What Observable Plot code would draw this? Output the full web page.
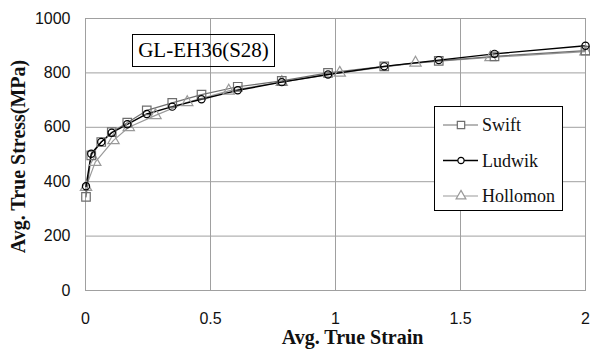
<!DOCTYPE html>
<html><head><meta charset="utf-8">
<script src="https://cdn.jsdelivr.net/npm/d3@7"></script>
<script src="https://cdn.jsdelivr.net/npm/@observablehq/plot@0.6"></script>
<style>
body{margin:0;background:#fff;}
#wrap{position:relative;width:590px;height:352px;overflow:hidden;}
#title{position:absolute;left:132px;top:34px;width:141px;height:31px;border:1px solid #000;font-family:"Liberation Serif","Times New Roman",serif;font-size:21px;line-height:31px;text-align:center;color:#000;}
#legend{position:absolute;left:434px;top:106px;width:129px;height:105px;border:1px solid #000;background:#fff;box-sizing:border-box;}
#legend svg{position:absolute;left:0;top:0;}
.lgt{position:absolute;left:47px;height:20px;line-height:20px;font-family:"Liberation Serif","Times New Roman",serif;font-size:18px;color:#111;white-space:nowrap;}
</style></head>
<body>
<div id="wrap"></div>
<script>
// Swift & Ludwik share strain points
const strainSL = [0.002, 0.023, 0.063, 0.105, 0.167, 0.245, 0.347, 0.464, 0.609, 0.785, 0.97, 1.195, 1.413, 1.636, 2.0];
const swiftStress = [344, 497, 546, 582, 617, 662, 690, 720, 749, 771, 800, 824, 844, 861, 882];
const ludwikStress = [383, 503, 546, 580, 611, 649, 676, 703, 736, 766, 794, 824, 847, 870, 900];
// Hollomon
const strainH = [0.002, 0.039, 0.112, 0.173, 0.28, 0.407, 0.573, 0.785, 1.017, 1.32, 1.62, 2.0];
const hollomonStress = [380, 472, 552, 600, 644, 692, 734, 766, 800, 837, 857, 878];

const xTicks = [0, 0.5, 1, 1.5, 2];
const yTicks = [0, 200, 400, 600, 800, 1000];
const seriesNames = ["Swift", "Ludwik", "Hollomon"];
const titleText = "GL-EH36(S28)";
const xLabel = "Avg. True Strain";
const yLabel = "Avg. True Stress(MPa)";

const swift = strainSL.map((x, i) => ({x, y: swiftStress[i]}));
const ludwik = strainSL.map((x, i) => ({x, y: ludwikStress[i]}));
const hollomon = strainH.map((x, i) => ({x, y: hollomonStress[i]}));

const cSwift = "#6e6e6e", cLudwik = "#000", cHollomon = "#9a9a9a";
const serif = "'Liberation Serif','Times New Roman',serif";

const chart = Plot.plot({
  width: 590, height: 352,
  marginLeft: 85, marginRight: 5, marginTop: 18, marginBottom: 62,
  x: {domain: [0, 2]},
  y: {domain: [0, 1000]},
  style: {fontFamily: "'Liberation Sans',sans-serif", fontSize: "16px", color: "#111", background: "#fff"},
  marks: [
    Plot.gridX(xTicks, {stroke: "#a0a0a0", strokeOpacity: 1}),
    Plot.gridY(yTicks, {stroke: "#a0a0a0", strokeOpacity: 1}),
    Plot.frame({stroke: "#a0a0a0"}),
    Plot.axisX(xTicks, {tickSize: 0, tickPadding: 22, label: null, tickFormat: d => String(d)}),
    Plot.axisY(yTicks, {tickSize: 0, tickPadding: 15, label: null, tickFormat: d => String(d)}),
    Plot.line(hollomon, {x: "x", y: "y", stroke: cHollomon, strokeWidth: 1.2}),
    Plot.line(swift, {x: "x", y: "y", stroke: cSwift, strokeWidth: 1.2}),
    Plot.line(ludwik, {x: "x", y: "y", stroke: cLudwik, strokeWidth: 1.4}),
    Plot.dot(hollomon, {x: "x", y: "y", symbol: "triangle", r: 4.2, stroke: cHollomon, strokeWidth: 1.2, fill: "none"}),
    Plot.dot(swift, {x: "x", y: "y", symbol: "square", r: 4.8, stroke: cSwift, strokeWidth: 1.2, fill: "none"}),
    Plot.dot(ludwik, {x: "x", y: "y", symbol: "circle", r: 3.6, stroke: cLudwik, strokeWidth: 1.2, fill: "none"}),
    Plot.text([xLabel], {text: d => d, frameAnchor: "bottom", textAnchor: "middle", lineAnchor: "middle", dx: 17, dy: 47, fontFamily: serif, fontWeight: "bold", fontSize: 20, fill: "#111"}),
    Plot.text([yLabel], {text: d => d, frameAnchor: "left", textAnchor: "middle", lineAnchor: "middle", rotate: -90, dx: -67, dy: 2, fontFamily: serif, fontWeight: "bold", fontSize: 20, fill: "#111"})
  ]
});

const wrap = document.getElementById("wrap");
wrap.appendChild(chart);

const title = document.createElement("div");
title.id = "title";
title.textContent = titleText;
wrap.appendChild(title);

// legend
const colors = [cSwift, cLudwik, cHollomon];
const symbols = [d3.symbolSquare, d3.symbolCircle, d3.symbolTriangle];
const sizes = [Math.PI * 4.8 * 4.8 * 0.75, Math.PI * 3.6 * 3.6 * 0.75, Math.PI * 4.2 * 4.2 * 0.75];
const legend = document.createElement("div");
legend.id = "legend";
const lg = d3.create("svg").attr("width", 50).attr("height", 103);
seriesNames.forEach((name, i) => {
  const cy = 18 + i * 35.5;
  lg.append("line").attr("x1", 8).attr("x2", 43).attr("y1", cy).attr("y2", cy).attr("stroke", colors[i]).attr("stroke-width", i === 1 ? 1.4 : 1.2);
  lg.append("path").attr("d", d3.symbol(symbols[i], sizes[i])()).attr("transform", `translate(26,${cy})`).attr("fill", "#fff").attr("stroke", colors[i]).attr("stroke-width", 1.2);
  const t = document.createElement("div");
  t.className = "lgt";
  t.style.top = (cy - 10) + "px";
  t.textContent = name;
  legend.appendChild(t);
});
legend.appendChild(lg.node());
wrap.appendChild(legend);
</script>
</body></html>
